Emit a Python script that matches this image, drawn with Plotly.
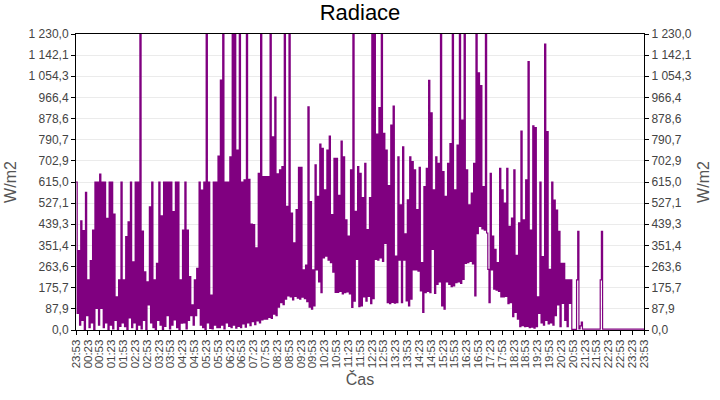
import pandas as pd
import plotly.graph_objects as go

# radiace po 3 minutach (W/m2):
# vrcholy a minima se stridaji (vrchol, minimum, vrchol, ...)
noc_vrcholy = [615, 330, 454, 413, 572, 208, 288, 415, 615, 615,
               648, 615, 615, 464, 615, 615, 482, 138, 208, 615,
               208, 388, 449, 615, 283, 615, 615, 1230, 411, 242,
               200, 512, 615, 208, 277, 615, 474, 615, 615, 615,
               615, 492, 615, 615, 208, 415, 615, 415, 222, 104,
               208, 256, 615, 581, 615, 1230, 615, 145, 615, 615,
               723, 1038, 1230, 615, 615, 720, 1230, 1230, 748, 1230]
noc_minima = [69, 20, 40, 0, 60, 10, 30, 0, 90, 20,
              90, 10, 30, 0, 20, 5, 40, 0, 15, 30,
              14, 0, 50, 10, 30, 0, 20, 5, 40, 0,
              104, 30, 10, 0, 40, 20, 0, 15, 60, 5,
              20, 42, 10, 0, 28, 30, 5, 40, 60, 20,
              60, 90, 20, 10, 0, 30, 7, 5, 20, 10,
              10, 20, 5, 30, 15, 10, 20, 8, 15, 10]

rano_vrcholy = [615, 624, 1230, 626, 440, 438, 341, 651, 1230, 637,
                637, 637, 1230, 803, 968, 649, 665, 679, 1230, 514,
                1230, 486, 362, 500, 676, 676, 250, 270, 927, 534,
                250, 686, 555, 773, 755, 582, 748, 806, 480, 713]
rano_minima = [25, 12, 30, 18, 35, 22, 38, 30, 42, 45,
               45, 52, 48, 66, 60, 95, 114, 105, 128, 142,
               138, 125, 140, 132, 128, 136, 130, 118, 95, 87,
               100, 250, 200, 155, 300, 307, 290, 280, 240, 156]

poledne_vrcholy = [713, 560, 785, 720, 458, 390, 665, 1230, 493, 679,
                   651, 550, 693, 417, 550, 1230, 1230, 814, 924, 1230,
                   817, 748, 600, 851, 930, 307, 720, 520, 761, 400,
                   541, 720, 700, 665, 500, 676, 280, 596, 672, 1037]
poledne_minima = [156, 160, 150, 155, 158, 150, 94, 120, 293, 97,
                  100, 138, 120, 140, 110, 130, 293, 290, 300, 285,
                  360, 114, 110, 115, 112, 114, 290, 114, 290, 121,
                  100, 128, 250, 250, 245, 162, 73, 155, 160, 155]

odpoledne_vrcholy = [902, 582, 720, 693, 1230, 658, 555, 693, 775, 1230,
                     582, 768, 1230, 872, 1230, 665, 520, 569, 693, 1230,
                     1069, 1016, 596, 1230, 252, 651, 390, 335, 280, 672,
                     582, 527, 672, 431, 465, 665, 310, 445, 826, 458]
odpoledne_minima = [335, 152, 190, 200, 100, 87, 200, 190, 180, 183,
                    197, 200, 194, 210, 277, 280, 285, 275, 142, 400,
                    430, 420, 415, 403, 114, 250, 170, 166, 160, 138,
                    138, 140, 110, 114, 55, 73, 45, 14, 18, 14]

vecer_vrcholy = [624, 1115, 415, 848, 841, 138, 615, 305, 1188, 824,
                 252, 615, 540, 498, 410, 277, 277, 208, 208, 208]
vecer_minima = [15, 10, 12, 8, 14, 69, 30, 20, 40, 25,
                30, 20, 60, 104, 14, 111, 40, 14, 111, 3]

# od 20:53 do konce uz skoro nula
konec = [3, 3, 3, 208, 410, 5, 17, 33, 4, 4, 4, 4, 4, 4, 4, 4, 4, 4, 4, 4,
         4, 4, 4, 208, 410, 4, 4, 4, 4, 4, 4, 4, 4, 4, 4, 4, 4, 4, 4, 4,
         4, 4, 4, 4, 4, 4, 4, 4, 4, 4, 4, 4, 4, 4, 4, 4, 4, 4, 4, 4,
         4]

vrcholy = noc_vrcholy + rano_vrcholy + poledne_vrcholy + odpoledne_vrcholy + vecer_vrcholy
minima = noc_minima + rano_minima + poledne_minima + odpoledne_minima + vecer_minima
radiace = []
for v, m in zip(vrcholy, minima):
    radiace += [v, m]
radiace += konec

cas = pd.date_range("2024-05-01 23:53", periods=len(radiace), freq="3min")

y_ticks = [0, 87.857, 175.714, 263.571, 351.429, 439.286, 527.143, 615,
           702.857, 790.714, 878.571, 966.429, 1054.286, 1142.143, 1230]
y_labels = ["0,0", "87,9", "175,7", "263,6", "351,4", "439,3", "527,1", "615,0",
            "702,9", "790,7", "878,6", "966,4", "1 054,3", "1 142,1", "1 230,0"]

fig = go.Figure()
fig.add_trace(go.Scatter(x=cas, y=radiace, mode="lines", line_shape="hv",
                         line=dict(color="#800080", width=1.2),
                         showlegend=False))
# prazdna stopa jen kvuli prave ose
fig.add_trace(go.Scatter(x=[cas[0]], y=[0], yaxis="y2", mode="lines",
                         opacity=0, showlegend=False, hoverinfo="skip"))

pismo = "Liberation Sans"
osa_y = dict(range=[0, 1230], tickvals=y_ticks, ticktext=y_labels,
             tickfont=dict(family=pismo, size=12, color="#444444"),
             ticks="outside", ticklen=4, tickcolor="black",
             showline=True, linecolor="black", linewidth=1,
             title=dict(text="W/m2", font=dict(family=pismo, size=16, color="#555555"),
                        standoff=7),
             zeroline=False, automargin=False, fixedrange=True)

fig.update_layout(
    width=720, height=400,
    margin=dict(l=76, r=76, t=34, b=70),
    paper_bgcolor="white", plot_bgcolor="white",
    title=dict(text="Radiace", x=0.5, xanchor="center", y=0.97, yanchor="middle",
               font=dict(family=pismo, size=22, color="black")),
    xaxis=dict(type="date", range=[cas[0], cas[-1]], tick0=cas[0], dtick=30 * 60 * 1000,
               tickformat="%H:%M", tickangle=-90,
               tickfont=dict(family=pismo, size=11.5, color="#444444"),
               ticks="outside", ticklen=4, tickcolor="black",
               showline=True, linecolor="black", linewidth=1, mirror=True,
               showgrid=False, zeroline=False, automargin=False, fixedrange=True,
               title=dict(text="Čas", font=dict(family=pismo, size=16, color="#555555"),
                          standoff=6)),
    yaxis=dict(**osa_y, showgrid=True, gridcolor="#ebebeb", mirror=True),
    yaxis2=dict(**osa_y, overlaying="y", side="right", showgrid=False),
)

# bez okraje stranky, aby graf sedel na 720x400
fig.write_html("out.html", config={"displayModeBar": False},
               post_script="document.body.style.margin = '0px';")
